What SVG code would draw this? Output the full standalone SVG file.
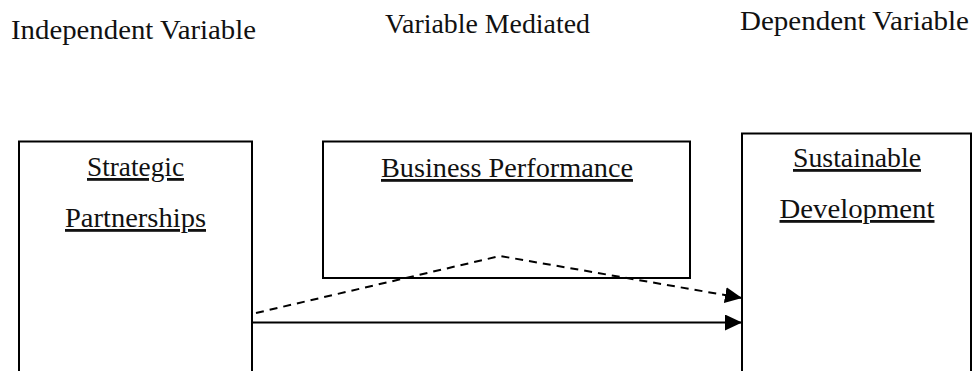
<svg xmlns="http://www.w3.org/2000/svg" width="973" height="371" viewBox="0 0 973 371">
<style>
.box{fill:#fff;stroke:#000;stroke-width:2}
.hdr{font-family:"Liberation Serif","Times New Roman",serif;font-size:28px;fill:#111}
.lbl{font-family:"Liberation Serif","Times New Roman",serif;font-size:28px;fill:#111;text-decoration:underline;text-anchor:middle}
.con{fill:none;stroke:#000;stroke-width:2}
.dash{stroke-dasharray:8 6}
</style>
<defs>
<marker id="arr" viewBox="0 0 17 16" refX="17" refY="8" markerWidth="17" markerHeight="16" markerUnits="userSpaceOnUse" orient="auto">
<path d="M0,0 L17,8 L0,16 Z" fill="#000"/>
</marker>
</defs>
<rect width="973" height="371" fill="#fff"/>
<g id="headers">
<text class="hdr" x="11" y="39" textLength="245" lengthAdjust="spacingAndGlyphs">Independent Variable</text>
<text class="hdr" x="385" y="33" textLength="205" lengthAdjust="spacingAndGlyphs">Variable Mediated</text>
<text class="hdr" x="740" y="30" textLength="229" lengthAdjust="spacingAndGlyphs">Dependent Variable</text>
</g>
<g id="node-strategic">
<rect class="box" x="19" y="141.5" width="233" height="250"/>
<text class="lbl" x="135.5" y="176" textLength="97" lengthAdjust="spacingAndGlyphs">Strategic</text>
<text class="lbl" x="135.5" y="227" textLength="141" lengthAdjust="spacingAndGlyphs">Partnerships</text>
</g>
<g id="node-business">
<rect class="box" x="323" y="141.5" width="367" height="136.5"/>
<text class="lbl" x="507" y="177" textLength="252" lengthAdjust="spacingAndGlyphs">Business Performance</text>
</g>
<g id="node-sustainable">
<rect class="box" x="742" y="133.5" width="229" height="260"/>
<text class="lbl" x="857" y="167" textLength="128" lengthAdjust="spacingAndGlyphs">Sustainable</text>
<text class="lbl" x="857" y="218" textLength="155" lengthAdjust="spacingAndGlyphs">Development</text>
</g>
<g id="connectors">
<polyline class="con dash" points="256,313 500,256 742,298" marker-end="url(#arr)"/>
<line class="con" x1="252" y1="322.5" x2="742" y2="322.5" marker-end="url(#arr)"/>
</g>
</svg>
